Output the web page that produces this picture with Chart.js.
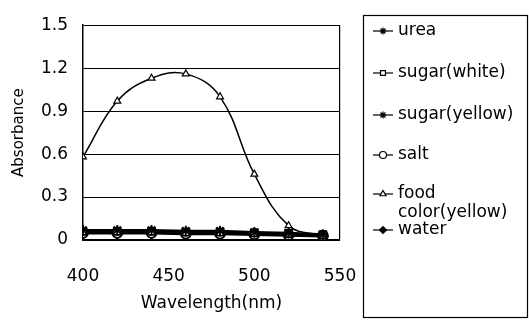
<!DOCTYPE html>
<html>
<head>
<meta charset="utf-8">
<script src="https://cdn.jsdelivr.net/npm/chart.js@4"></script>
<style>
  html, body { margin: 0; padding: 0; background: #fff; }
  #wrap { width: 529px; height: 320px; }
</style>
</head>
<body>
<div id="wrap"><canvas id="c" width="529" height="320"></canvas></div>
<script>
// wavelengths (nm)
const wavelengths = [400, 420, 440, 460, 480, 500, 520, 540];

// absorbance per sample
const urea        = [0.07, 0.07, 0.07, 0.065, 0.065, 0.055, 0.05, 0.04];
const sugarWhite  = [0.06, 0.06, 0.06, 0.055, 0.055, 0.05, 0.045, 0.035];
const sugarYellow = [0.065, 0.065, 0.065, 0.06, 0.06, 0.05, 0.045, 0.035];
const salt        = [0.05, 0.05, 0.05, 0.045, 0.045, 0.04, 0.035, 0.03];
const foodColor   = [0.58, 0.97, 1.13, 1.16, 1.0, 0.46, 0.1, 0.03];
const water       = [0.045, 0.045, 0.045, 0.04, 0.04, 0.035, 0.03, 0.025];

const seriesNames = ['urea', 'sugar(white)', 'sugar(yellow)', 'salt', ['food', 'color(yellow)'], 'water'];
const seriesData = [urea, sugarWhite, sugarYellow, salt, foodColor, water];
const pointStyles = ['star', 'rect', 'star', 'circle', 'triangle', 'rectRot'];
const pointFills = ['#000', '#fff', '#000', '#fff', '#fff', '#000'];

const yTicks = [0, 0.3, 0.6, 0.9, 1.2, 1.5];
const xTicks = [400, 450, 500, 550];

const FONT = "'DejaVu Sans', sans-serif";

const datasets = seriesData.map((vals, i) => ({
  label: Array.isArray(seriesNames[i]) ? seriesNames[i].join(' ') : seriesNames[i],
  data: vals.map((v, j) => ({ x: wavelengths[j], y: v })),
  borderColor: '#000',
  borderWidth: i === 4 ? 1.5 : 2,
  backgroundColor: pointFills[i],
  pointStyle: pointStyles[i],
  pointRadius: i === 4 ? 4 : 5,
  pointBorderColor: '#000',
  pointBackgroundColor: pointFills[i],
  pointBorderWidth: i === 4 ? 1.2 : 1.8,
  tension: i === 4 ? 0.4 : 0,
  fill: false
}));

// legend drawn in a box at the right
const boxLegend = {
  id: 'boxLegend',
  afterDraw(chart) {
    const ctx = chart.ctx;
    ctx.save();
    ctx.strokeStyle = '#000';
    ctx.lineWidth = 1.2;
    ctx.strokeRect(363.5, 15.5, 164, 302);
    const rows = [31, 73, 115, 155, 194, 230];
    ctx.font = "17px " + FONT;
    ctx.textBaseline = 'middle';
    ctx.fillStyle = '#000';
    seriesNames.forEach((name, i) => {
      const y = rows[i];
      ctx.beginPath();
      ctx.lineWidth = 1.2;
      ctx.strokeStyle = '#000';
      ctx.moveTo(373, y);
      ctx.lineTo(393, y);
      ctx.stroke();
      ctx.fillStyle = pointFills[i];
      Chart.helpers.drawPoint(ctx, { pointStyle: pointStyles[i], radius: 3.5, rotation: 0, borderWidth: 1.2 }, 383, y);
      ctx.fillStyle = '#000';
      const lines = Array.isArray(name) ? name : [name];
      lines.forEach((t, k) => ctx.fillText(t, 398, y + k * 19));
    });
    ctx.restore();
  }
};

new Chart(document.getElementById('c'), {
  type: 'line',
  data: { datasets },
  options: {
    responsive: false,
    animation: false,
    layout: { padding: { top: 16, right: 189, bottom: 0, left: 0 } },
    plugins: { legend: { display: false }, tooltip: { enabled: false } },
    scales: {
      x: {
        type: 'linear',
        min: 400,
        max: 550,
        afterFit: s => { s.height = 80; },
        afterBuildTicks: s => { s.ticks = xTicks.map(v => ({ value: v })); },
        ticks: { color: '#000', font: { family: FONT, size: 17 }, padding: 26, maxRotation: 0 },
        grid: {
          drawTicks: false,
          color: c => (c.tick && c.tick.value === 550 ? '#000' : 'rgba(0,0,0,0)'),
          lineWidth: 1.2
        },
        border: { display: true, color: '#000', width: 1.5 },
        title: { display: true, text: 'Wavelength(nm)', color: '#000', font: { family: FONT, size: 17 }, padding: { top: 0, bottom: 6 } }
      },
      y: {
        min: 0,
        max: 1.5,
        afterFit: s => { s.width = 83; },
        afterBuildTicks: s => { s.ticks = yTicks.map(v => ({ value: v })); },
        ticks: {
          color: '#000',
          font: { family: FONT, size: 17 },
          padding: 15,
          callback: v => (v === 0 ? '0' : v.toFixed(1))
        },
        grid: { drawTicks: false, color: '#000', lineWidth: 1 },
        border: { display: true, color: '#000', width: 1.5 },
        title: { display: true, text: 'Absorbance', color: '#000', font: { family: FONT, size: 15 }, padding: { top: 10, bottom: 0 } }
      }
    }
  },
  plugins: [boxLegend]
});
</script>
</body>
</html>
